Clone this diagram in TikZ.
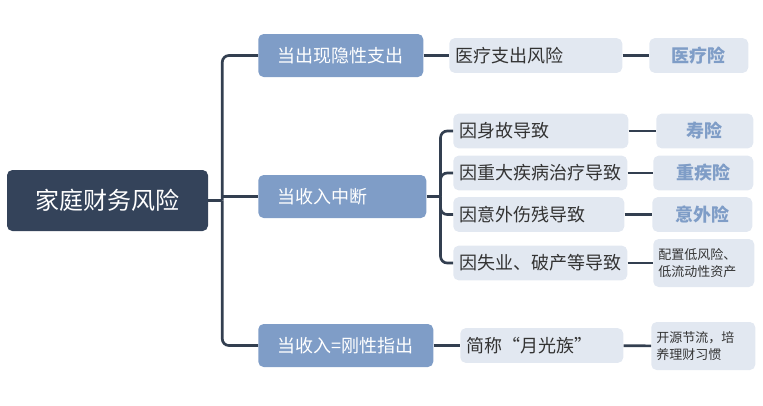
\documentclass[tikz,border=0pt]{standalone}
\usepackage{fontspec}
\newfontfamily\cjk{Noto Sans CJK SC}
\definecolor{gelap}{HTML}{34435A}
\definecolor{biru}{HTML}{7F9DC7}
\definecolor{muda}{HTML}{E2E8F1}
\definecolor{garis}{HTML}{333F50}
\definecolor{teks}{HTML}{333333}
\begin{document}
\begin{tikzpicture}[x=0.75pt,y=-0.75pt,
      kotak/.style={rounded corners=4pt,inner ysep=0pt},
      akar/.style={kotak,fill=gelap,text=white,minimum width=150.75pt,
        minimum height=45.75pt,font=\cjk\fontsize{18}{22}\selectfont},
      cabang/.style={kotak,fill=biru,text=white,anchor=west,inner xsep=14.25pt,
        minimum height=32.25pt,text width=#1,align=left,
        font=\cjk\fontsize{13.5}{16}\selectfont},
      daun/.style={kotak,fill=muda,text=teks,anchor=west,inner xsep=4.5pt,
        minimum height=26pt,text width=#1,align=left,
        font=\cjk\fontsize{13.5}{16}\selectfont},
      hasil/.style={kotak,fill=muda,text=biru,anchor=west,minimum width=#1,
        minimum height=26pt,font=\cjk\bfseries\fontsize{13.5}{16}\selectfont},
      catatan/.style={kotak,fill=muda,text=teks,anchor=west,inner xsep=3.75pt,
        minimum height=36pt,text width=#1,align=left,
        font=\cjk\fontsize{9.75}{13}\selectfont},
      garis/.style={draw=garis,line width=2pt,rounded corners=5pt}]
    \useasboundingbox (0,0) rectangle (763,405);
    % Akar dan tiga cabang
    \node[akar] (akar) at (107.5,200.5) {家庭财务风险};
    \node[cabang=95.25pt] (b1) at (258,55.5) {当出现隐性支出};
    \node[cabang=97.5pt] (b2) at (258,196.5) {当收入中断};
    \node[cabang=102.75pt] (b3) at (258,345.5) {当收入=刚性指出};
    \draw[garis] (akar.east) -- ++(14,0) coordinate (t);
    \draw[garis] (t) |- (b1.west);
    \draw[garis] (t) |- (b3.west);
    \draw[garis] (b2.west -| t) -- (b2.west);
    % Cabang 1
    \node[daun=120.75pt] (l1) at (449,55.5) {医疗支出风险};
    \node[hasil=74.25pt] (h1) at (649,55.5) {医疗险};
    \draw[garis] (b1) -- (l1);
    \draw[garis] (l1) -- (h1);
    % Cabang 2
    \node[daun=122.25pt] (c1) at (453,131) {因身故导致};
    \node[daun=121.5pt] (c2) at (453,173) {因重大疾病治疗导致};
    \node[daun=119.25pt] (c3) at (453,214.5) {因意外伤残导致};
    \node[daun=121.5pt] (c4) at (453,263) {因失业、破产等导致};
    \node[hasil=72.75pt] (h2) at (656,131) {寿险};
    \node[hasil=75pt] (h3) at (653,173) {重疾险};
    \node[hasil=75pt] (h4) at (652,214.5) {意外险};
    \node[catatan=68.25pt] (h5) at (653,263) {配置低风险、\\低流动性资产};
    \draw[garis] (b2.east) -- ++(14,0) coordinate (s);
    \foreach \c/\h in {c1/h2, c2/h3, c3/h4, c4/h5} {
      \draw[garis] (s) |- (\c.west);
      \draw[garis] (\c) -- (\h);
    }
    % Cabang 3
    \node[daun=113.25pt] (d1) at (460,345.5) {简称“月光族”};
    \node[catatan=70.5pt] (h6) at (651,346) {开源节流，培\\养理财习惯};
    \draw[garis] (b3) -- (d1);
    \draw[garis] (d1) -- (h6);
  \end{tikzpicture}
\end{document}
